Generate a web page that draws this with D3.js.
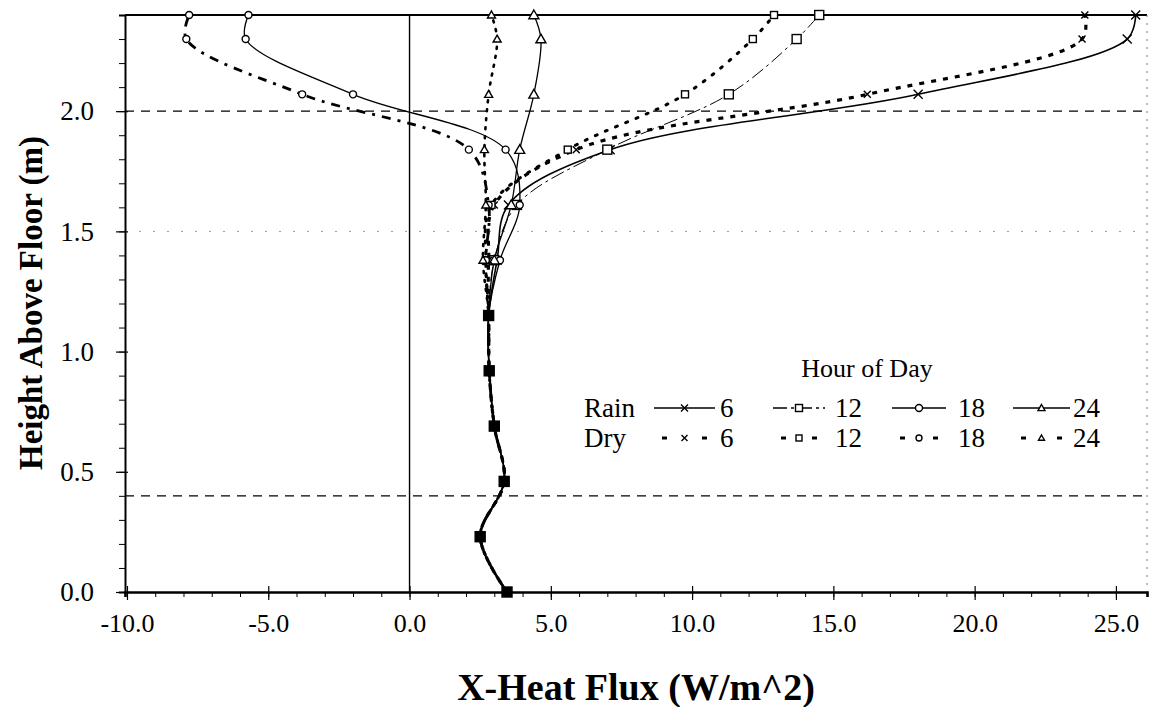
<!DOCTYPE html>
<html><head><meta charset="utf-8">
<script src="https://cdn.jsdelivr.net/npm/d3@7"></script>
<style>
body{margin:0;background:#fff}
svg text{font-family:"Liberation Serif","Times New Roman",serif;fill:#000}
</style>
</head><body>
<svg id="chart" width="1153" height="707"></svg>
<script>
// ---------------- data ----------------
const heights = [0, 0.23, 0.46, 0.69, 0.92, 1.15, 1.38, 1.61, 1.84, 2.07, 2.30, 2.40];
const rain6  = [3.45, 2.5, 3.35, 3.0, 2.82, 2.8, 3.1, 3.5, 7.1, 18.0, 25.4, 25.7];
const rain12 = [3.45, 2.5, 3.35, 3.0, 2.82, 2.8, 3.0, 3.8, 7.0, 11.3, 13.7, 14.5];
const rain18 = [3.45, 2.5, 3.35, 3.0, 2.82, 2.8, 3.2, 3.9, 3.4, -2.0, -5.8, -5.7];
const rain24 = [3.45, 2.5, 3.35, 3.0, 2.82, 2.8, 3.0, 3.6, 3.9, 4.4, 4.65, 4.4];
const dry6   = [3.45, 2.5, 3.35, 3.0, 2.82, 2.8, 2.8, 3.0, 5.9, 16.2, 23.8, 23.9];
const dry12  = [3.45, 2.5, 3.35, 3.0, 2.82, 2.8, 2.7, 2.9, 5.6, 9.75, 12.15, 12.9];
const dry18  = [3.45, 2.5, 3.35, 3.0, 2.82, 2.8, 2.7, 2.8, 2.1, -3.8, -7.9, -7.8];
const dry24  = [3.45, 2.5, 3.35, 3.0, 2.82, 2.8, 2.6, 2.7, 2.65, 2.8, 3.1, 2.9];
const sharedCount = 6; // lowest points where all series coincide
const xTickValues = [-10, -5, 0, 5, 10, 15, 20, 25];
const yTickValues = [0, 0.5, 1.0, 1.5, 2.0];
const refLines = [0.4, 2.0];
const gridLines = [1.5];
const hours = ["6", "12", "18", "24"];
const groups = ["Rain", "Dry"];
const xTitle = "X-Heat Flux (W/m^2)";
const yTitle = "Height Above Floor (m)";
const legendTitle = "Hour of Day";

// ---------------- styles ----------------
const series = [
  {name:"Rain 6",  v:rain6,  dash:null,          w:1.6, mk:"x",   ms:9},
  {name:"Rain 12", v:rain12, dash:"14,4,3,4",    w:1.0, mk:"sq",  ms:9},
  {name:"Rain 18", v:rain18, dash:null,          w:1.3, mk:"ci",  ms:7},
  {name:"Rain 24", v:rain24, dash:null,          w:1.3, mk:"tri", ms:10},
  {name:"Dry 6",   v:dry6,   dash:"5,7",         w:3.2, mk:"x",   ms:7},
  {name:"Dry 12",  v:dry12,  dash:"2,9",         w:3.0, mk:"sq",  ms:7, cap:"round"},
  {name:"Dry 18",  v:dry18,  dash:"9,7,3,7",     w:2.8, mk:"ci",  ms:7},
  {name:"Dry 24",  v:dry24,  dash:"2,7",         w:2.6, mk:"tri", ms:8, cap:"round"}
];

const svg = d3.select("#chart");
const x = d3.scaleLinear().domain([-10.07, 26.1]).range([125, 1147]);
const y = d3.scaleLinear().domain([0, 2.4]).range([592, 15]);
const fmt = d => d3.format(".1f")(d).replace("\u2212", "-");

// faint grid
svg.selectAll(".grid").data(gridLines).enter().append("line")
  .attr("x1", x(-10.07)).attr("x2", x(26.1))
  .attr("y1", d => y(d)).attr("y2", d => y(d))
  .attr("stroke", "#999").attr("stroke-width", 1).attr("stroke-dasharray", "2,12");

// reference dashed lines
svg.selectAll(".ref").data(refLines).enter().append("line")
  .attr("x1", x(-10.07)).attr("x2", x(26.1))
  .attr("y1", d => y(d)).attr("y2", d => y(d))
  .attr("stroke", "#000").attr("stroke-width", 1.3).attr("stroke-dasharray", "9,7");

// zero line
svg.append("line").attr("x1", x(0)).attr("x2", x(0)).attr("y1", y(0)).attr("y2", y(2.4))
  .attr("stroke", "#000").attr("stroke-width", 1.4);

// frame top / right
svg.append("line").attr("x1", x(-10.07)).attr("x2", x(26.1)).attr("y1", y(2.4)).attr("y2", y(2.4))
  .attr("stroke", "#000").attr("stroke-width", 2);
svg.append("line").attr("x1", x(26.1)).attr("x2", x(26.1)).attr("y1", y(2.4)).attr("y2", y(0))
  .attr("stroke", "#777").attr("stroke-width", 1).attr("stroke-dasharray", "2,6");

// x axis
const xMinor = d3.range(-10, 26, 1);
svg.append("g").attr("transform", `translate(0,${y(0)})`)
  .call(d3.axisBottom(x).tickValues(xMinor).tickSize(5).tickFormat(""))
  .call(g => g.select(".domain").attr("stroke-width", 2.6));
svg.append("g").attr("transform", `translate(0,${y(0)})`)
  .call(d3.axisBottom(x).tickValues(xTickValues).tickSize(8).tickPadding(16).tickFormat(fmt))
  .call(g => g.select(".domain").remove())
  .call(g => g.selectAll("line").attr("y1", -6).attr("stroke-width", 1.2))
  .call(g => g.selectAll("text").attr("font-size", 26).attr("dy", "0.6em"));

// y axis
const yMinor = d3.range(0, 2.41, 0.1);
svg.append("g").attr("transform", `translate(${x(-10.07)},0)`)
  .call(d3.axisLeft(y).tickValues(yMinor).tickSize(6).tickFormat(""))
  .call(g => g.select(".domain").attr("stroke-width", 2));
svg.append("g").attr("transform", `translate(${x(-10.07)},0)`)
  .call(d3.axisLeft(y).tickValues(yTickValues).tickSize(9).tickPadding(22).tickFormat(fmt))
  .call(g => g.select(".domain").remove())
  .call(g => g.selectAll("line").attr("x1", 3).attr("stroke-width", 1.2))
  .call(g => g.selectAll("text").attr("font-size", 27));

// titles
svg.append("text").attr("x", 636).attr("y", 700).attr("text-anchor", "middle")
  .attr("font-size", 38).attr("font-weight", "bold").text(xTitle);
svg.append("text").attr("transform", "translate(42,303) rotate(-90)").attr("text-anchor", "middle")
  .attr("font-size", 33).attr("font-weight", "bold").text(yTitle);

// markers
function marker(g, type, size, cx, cy, filled) {
  const s = size / 2;
  let p;
  if (type === "x") p = g.append("path").attr("d", `M${cx-s},${cy-s}L${cx+s},${cy+s}M${cx-s},${cy+s}L${cx+s},${cy-s}`);
  else if (type === "sq") p = g.append("rect").attr("x", cx - s).attr("y", cy - s).attr("width", size).attr("height", size);
  else if (type === "ci") p = g.append("circle").attr("cx", cx).attr("cy", cy).attr("r", s);
  else if (type === "tri") p = g.append("path").attr("d", `M${cx},${cy-s}L${cx+s},${cy+s*0.75}L${cx-s},${cy+s*0.75}Z`);
  else if (type === "fsq") p = g.append("rect").attr("x", cx - s).attr("y", cy - s).attr("width", size).attr("height", size);
  p.attr("fill", filled ? "#000" : "#fff").attr("stroke", "#000").attr("stroke-width", 1.4);
}

const line = d3.line().x(d => x(d[1])).y(d => y(d[0])).curve(d3.curveCatmullRom.alpha(0.5));
const plot = svg.append("g");
series.forEach(s => {
  const pts = heights.map((h, i) => [h, s.v[i]]);
  plot.append("path").attr("d", line(pts)).attr("fill", "none").attr("stroke", "#000")
    .attr("stroke-width", s.w).attr("stroke-dasharray", s.dash)
    .attr("stroke-linecap", s.cap || "butt");
});
series.forEach(s => {
  const mg = plot.append("g");
  heights.forEach((h, i) => {
    if (i < sharedCount) return;
    marker(mg, s.mk, s.ms, x(s.v[i]), y(h), false);
  });
});
// shared lowest points drawn as one filled square
const shared = plot.append("g");
heights.slice(0, sharedCount).forEach((h, i) => marker(shared, "fsq", 10, x(rain6[i]), y(h), true));

// legend
const lg = svg.append("g");
lg.append("text").attr("x", 867).attr("y", 377).attr("text-anchor", "middle").attr("font-size", 26).text(legendTitle);
const sampleX = [[654, 715], [773, 825], [892, 946], [1013, 1070]];
const labelX = [720, 835, 958, 1073];
const rowY = [408, 438];
groups.forEach((grp, r) => {
  lg.append("text").attr("x", 584).attr("y", rowY[r] + 9).attr("font-size", 27).text(grp);
  hours.forEach((hr, c) => {
    const s = series[r * 4 + c];
    const [a, b] = sampleX[c];
    const cy = rowY[r];
    if (r === 0) {
      lg.append("line").attr("x1", a).attr("x2", b).attr("y1", cy).attr("y2", cy)
        .attr("stroke", "#000").attr("stroke-width", 1.4).attr("stroke-dasharray", s.dash);
    } else {
      lg.append("line").attr("x1", a + 8).attr("x2", a + 13).attr("y1", cy).attr("y2", cy).attr("stroke", "#000").attr("stroke-width", 3);
      lg.append("line").attr("x1", b - 13).attr("x2", b - 8).attr("y1", cy).attr("y2", cy).attr("stroke", "#000").attr("stroke-width", 3);
    }
    marker(lg, s.mk, r === 0 ? 7 : 6, (a + b) / 2, cy, false);
    lg.append("text").attr("x", labelX[c]).attr("y", cy + 9).attr("font-size", 27).text(hr);
  });
});
</script>
</body></html>
